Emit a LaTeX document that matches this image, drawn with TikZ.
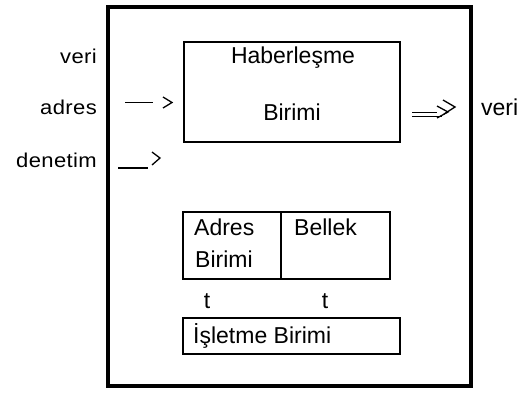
\documentclass[tikz,border=0pt]{standalone}
\usepackage{fontspec}
\setmainfont{Liberation Sans}
\newfontfamily\widefont{Liberation Sans}[FakeStretch=1.1,LetterSpace=2]
\begin{document}
\begin{tikzpicture}[x=1pt,y=-1pt,
  frame/.style={draw,line width=3.5pt,inner sep=0pt,minimum width=363pt,minimum height=379pt},
  unitbox/.style={draw,line width=2.2pt,inner sep=0pt},
  lbl/.style={inner sep=0pt,font=\fontsize{23}{27}\selectfont},
  sidelbl/.style={inner sep=0pt,anchor=base east,font=\widefont\fontsize{20}{24}\selectfont},
  wire/.style={line width=1.3pt},
  chev/.style={line width=1.3pt,line join=miter}]
\useasboundingbox (0,0) rectangle (529,394);

% outer frame
\node[frame] (outer) at (289.5,196.5) {};

% functional units
\node[unitbox,minimum width=216pt,minimum height=100pt] (haber) at (292,92) {};
\node[unitbox,minimum width=98pt,minimum height=67pt] (adresb) at (232,245.5) {};
\node[unitbox,minimum width=109pt,minimum height=67pt] (bellek) at (335.5,245.5) {};
\node[unitbox,minimum width=217pt,minimum height=36pt] (isletme) at (291.5,336) {};

% unit labels
\node[lbl,anchor=base] (t1) at (293,63) {Haberleşme};
\node[lbl,anchor=base] (t2) at (292,120) {Birimi};
\node[lbl,anchor=base west] (t3) at (194,235) {Adres};
\node[lbl,anchor=base west] (t4) at (195,267) {Birimi};
\node[lbl,anchor=base west] (t5) at (294,235) {Bellek};
\node[lbl,anchor=base] (t6) at (207,308) {t};
\node[lbl,anchor=base] (t7) at (325,308) {t};
\node[lbl,anchor=base west] (t8) at (193,343) {İşletme Birimi};

% signal names
\node[sidelbl] (sveri) at (97,63) {veri};
\node[sidelbl] (sadres) at (97,114) {adres};
\node[sidelbl] (sdenetim) at (97,167) {denetim};
\node[lbl,anchor=base west] (overi) at (481,115) {veri};

% adres input
\coordinate (a1) at (125,102.5);
\coordinate (a2) at (153,102.5);
\draw[wire] (a1) -- (a2);
\coordinate (ac1) at (163,97);
\coordinate (ac2) at (172,102.5);
\coordinate (ac3) at (163,108);
\draw[chev] (ac1) -- (ac2) -- (ac3);

% denetim input
\coordinate (d1) at (118,168);
\coordinate (d2) at (148,168);
\draw[wire] (d1) -- (d2);
\coordinate (dc1) at (152,152);
\coordinate (dc2) at (160,158);
\coordinate (dc3) at (152,165);
\draw[chev] (dc1) -- (dc2) -- (dc3);

% veri output
\coordinate (v1) at (412,112.5);
\coordinate (v2) at (437,112.5);
\coordinate (v3) at (412,116.5);
\coordinate (v4) at (442,116.5);
\draw[wire] (v1) -- (v2);
\draw[wire] (v3) -- (v4);
\coordinate (vc1) at (443,100);
\coordinate (vc2) at (455,107);
\coordinate (vc3) at (444,114);
\draw[chev] (vc1) -- (vc2) -- (vc3);
\coordinate (vc4) at (437,106);
\coordinate (vc5) at (448,112);
\coordinate (vc6) at (437,118);
\draw[chev] (vc4) -- (vc5) -- (vc6);
\end{tikzpicture}
\end{document}
